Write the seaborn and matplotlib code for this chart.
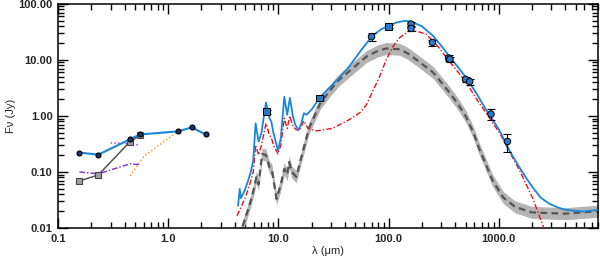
import numpy as np
import pandas as pd
import matplotlib

matplotlib.use("Agg")

import matplotlib.pyplot as plt
import seaborn as sns
from matplotlib.ticker import FixedLocator, LogLocator, NullFormatter

# =====================================
# Photometry (Jy) read from the SED
# =====================================

# optical / near-IR, observed
opt_wl = [0.156, 0.232, 0.45, 0.553, 1.22, 1.63, 2.18]
opt_flux = [0.222, 0.204, 0.385, 0.468, 0.53, 0.625, 0.468]

# optical, grey squares
grey_wl = [0.156, 0.232, 0.45, 0.553]
grey_flux = [0.069, 0.089, 0.35, 0.45]

# small model pieces on the left
purple_dot_wl = [0.30, 0.45, 0.55]
purple_dot_flux = [0.33, 0.32, 0.30]
purple_dd_wl = [0.156, 0.232, 0.45, 0.553]
purple_dd_flux = [0.10, 0.093, 0.14, 0.135]
orange_wl = [0.45, 0.60, 1.22]
orange_flux = [0.085, 0.19, 0.53]

# mid / far-IR / submm points
ir_wl = [7.8, 23.7, 70, 100, 160, 160, 250, 350, 360, 500, 545, 850, 1200]
ir_flux = [1.2, 2.1, 26.0, 39.5, 43.5, 36.5, 20.5, 10.8, 10.3, 4.5, 4.1, 1.08, 0.35]
ir_err = [0.1, 0.2, 4.0, 3.0, 5.0, 4.0, 2.5, 1.3, 1.2, 0.5, 0.5, 0.25, 0.12]
ir_square = [True, True, False, True, False, False, False, False, False, False, False, False, False]

# total model (blue)
tot_wl = [4.3, 4.45, 4.55, 4.9, 5.3, 5.6, 5.9, 6.2, 6.6, 7.0, 7.7, 8.3, 8.6, 9.0,
          9.9, 10.5, 11.3, 12.0, 12.7, 13.5, 14.2, 15.2, 16.0, 17.0, 18.0, 20, 24,
          30, 37, 44, 55, 70, 85, 100, 120, 140, 160, 200, 253, 300, 358, 430, 507,
          630, 769, 900, 1016, 1253, 1545, 1800, 2036, 2400, 2884, 3500, 4090,
          5780, 8000]
tot_flux = [0.025, 0.05, 0.034, 0.045, 0.07, 0.1, 0.16, 0.74, 0.35, 0.5, 1.74, 0.9,
            0.8, 0.5, 0.24, 0.4, 2.2, 1.05, 2.1, 1.0, 0.7, 0.56, 0.7, 1.12, 1.05,
            1.3, 2.2, 3.4, 5.2, 7.7, 14.0, 26.0, 35.0, 41.0, 47.0, 50.0, 48.5,
            40.0, 27.0, 18.0, 11.4, 7.3, 4.8, 2.5, 1.28, 0.8, 0.55, 0.24, 0.12,
            0.075, 0.053, 0.035, 0.027, 0.023, 0.021, 0.0197, 0.021]

# warm dust / PAH component (red)
red_wl = [4.2, 4.5, 5.0, 5.5, 5.9, 6.2, 6.6, 7.0, 7.7, 8.3, 8.6, 9.0, 9.9, 10.5,
          11.3, 12.0, 12.7, 13.5, 14.5, 15.5, 17.0, 18.5, 22, 31, 44, 55, 63, 72,
          83, 95, 110, 126, 155, 185, 220, 280, 358, 430, 507, 630, 769, 1016,
          1250, 1545, 2036, 2550, 2800]
red_flux = [0.0165, 0.022, 0.035, 0.061, 0.1, 0.3, 0.2, 0.3, 0.74, 0.45, 0.42, 0.3,
            0.21, 0.3, 0.91, 0.6, 1.0, 0.65, 0.57, 0.55, 0.82, 0.6, 0.54, 0.6, 0.86,
            1.15, 1.59, 2.8, 5.1, 10.0, 17.6, 25.0, 33.5, 32.0, 28.8, 17.5, 9.3,
            6.0, 3.9, 2.0, 1.12, 0.5, 0.23, 0.107, 0.034, 0.0104, 0.007]

# second model (grey dashed with band)
gm_wl = [4.4, 5.0, 5.5, 5.9, 6.3, 6.6, 7.1, 7.7, 8.3, 8.7, 9.6, 10.5, 11.3, 12.0,
         12.5, 13.2, 14.5, 16.7, 18.9, 24, 30, 35, 44, 63, 80, 95, 126, 150, 180,
         253, 300, 358, 430, 507, 590, 670, 760, 880, 1100, 1400, 2000, 4000, 8000]
gm_flux = [0.007, 0.015, 0.027, 0.045, 0.081, 0.06, 0.21, 0.2, 0.12, 0.11, 0.033,
           0.06, 0.114, 0.09, 0.15, 0.1, 0.082, 0.24, 0.6, 1.7, 3.0, 4.3, 6.3, 11.5,
           14.5, 16.0, 15.5, 13.0, 10.0, 6.0, 4.0, 2.6, 1.6, 0.95, 0.5, 0.25, 0.14,
           0.07, 0.035, 0.024, 0.019, 0.018, 0.02]

# =====================================
# Plot
# =====================================

sns.set_style("ticks")
plt.rcParams["font.family"] = ["Liberation Sans", "DejaVu Sans"]
plt.rcParams["font.weight"] = "bold"

fig = plt.figure(figsize=(6.0, 2.6), dpi=100)
ax = fig.add_axes([0.097, 0.123, 0.9, 0.862])

gm = pd.DataFrame({"wl": gm_wl, "flux": gm_flux})
ax.fill_between(gm["wl"], gm["flux"] / 1.28, gm["flux"] * 1.28,
                color="#b4b4b4", lw=0, zorder=1)
sns.lineplot(data=gm, x="wl", y="flux", ax=ax, color="#555555", lw=1.6,
             linestyle=(0, (3, 2)), sort=False, zorder=2)

red = pd.DataFrame({"wl": red_wl, "flux": red_flux})
sns.lineplot(data=red, x="wl", y="flux", ax=ax, color="#e0141e", lw=1.0,
             linestyle=(0, (4, 1.5, 1, 1.5)), sort=False, zorder=3)

tot = pd.DataFrame({"wl": tot_wl, "flux": tot_flux})
sns.lineplot(data=tot, x="wl", y="flux", ax=ax, color="#1a86d8", lw=1.3,
             sort=False, zorder=4)

# left-hand pieces
ax.plot(purple_dot_wl, purple_dot_flux, color="#8a2be2", lw=1.0, ls=":", zorder=3)
ax.plot(purple_dd_wl, purple_dd_flux, color="#7a2bc2", lw=1.0,
        ls=(0, (4, 1.5, 1, 1.5)), zorder=3)
ax.plot(orange_wl, orange_flux, color="#f08a24", lw=1.0, ls=":", zorder=3)
ax.plot(grey_wl, grey_flux, color="#555555", lw=1.1, zorder=4,
        marker="s", ms=4, mfc="#a0a0a0", mec="#444444", mew=0.8)
ax.plot(opt_wl, opt_flux, color="#1a86d8", lw=1.5, zorder=5,
        marker="o", ms=3.6, mfc="#1b3766", mec="black", mew=0.8)

# IR photometry with error bars
ax.errorbar(ir_wl, ir_flux, yerr=ir_err, fmt="none", ecolor="black",
            elinewidth=0.8, capsize=3, capthick=0.8, zorder=6)
pts = pd.DataFrame({"wl": ir_wl, "flux": ir_flux,
                    "shape": ["sq" if s else "ci" for s in ir_square]})
sns.scatterplot(data=pts, x="wl", y="flux", style="shape",
                markers={"sq": "s", "ci": "o"}, s=22, color="#2a78c8",
                edgecolor="black", linewidth=0.7, ax=ax, legend=False, zorder=7)

ax.set_xscale("log")
ax.set_yscale("log")
ax.set_xlim(0.1, 8000)
ax.set_ylim(0.01, 100)

ax.xaxis.set_major_locator(FixedLocator([0.1, 1, 10, 100, 1000]))
ax.set_xticklabels(["0.1", "1.0", "10.0", "100.0", "1000.0"])
ax.xaxis.set_minor_locator(LogLocator(base=10, subs=np.arange(2, 10)))
ax.xaxis.set_minor_formatter(NullFormatter())
ax.yaxis.set_major_locator(FixedLocator([0.01, 0.1, 1, 10, 100]))
ax.set_yticklabels(["0.01", "0.10", "1.00", "10.00", "100.00"])
ax.yaxis.set_minor_locator(LogLocator(base=10, subs=np.arange(2, 10)))
ax.yaxis.set_minor_formatter(NullFormatter())

ax.tick_params(which="both", direction="in", top=True, right=True,
               labelsize=8, width=1.0, color="black", pad=4)
ax.tick_params(which="major", length=7)
ax.tick_params(which="minor", length=4)
for sp in ax.spines.values():
    sp.set_linewidth(1.1)
    sp.set_color("black")

ax.set_xlabel("λ (μm)", fontsize=8, labelpad=2)
ax.set_ylabel("Fν (Jy)", fontsize=8)
ax.yaxis.set_label_coords(-0.078, 0.5)

plt.savefig("out.png", dpi=100)
plt.close()
